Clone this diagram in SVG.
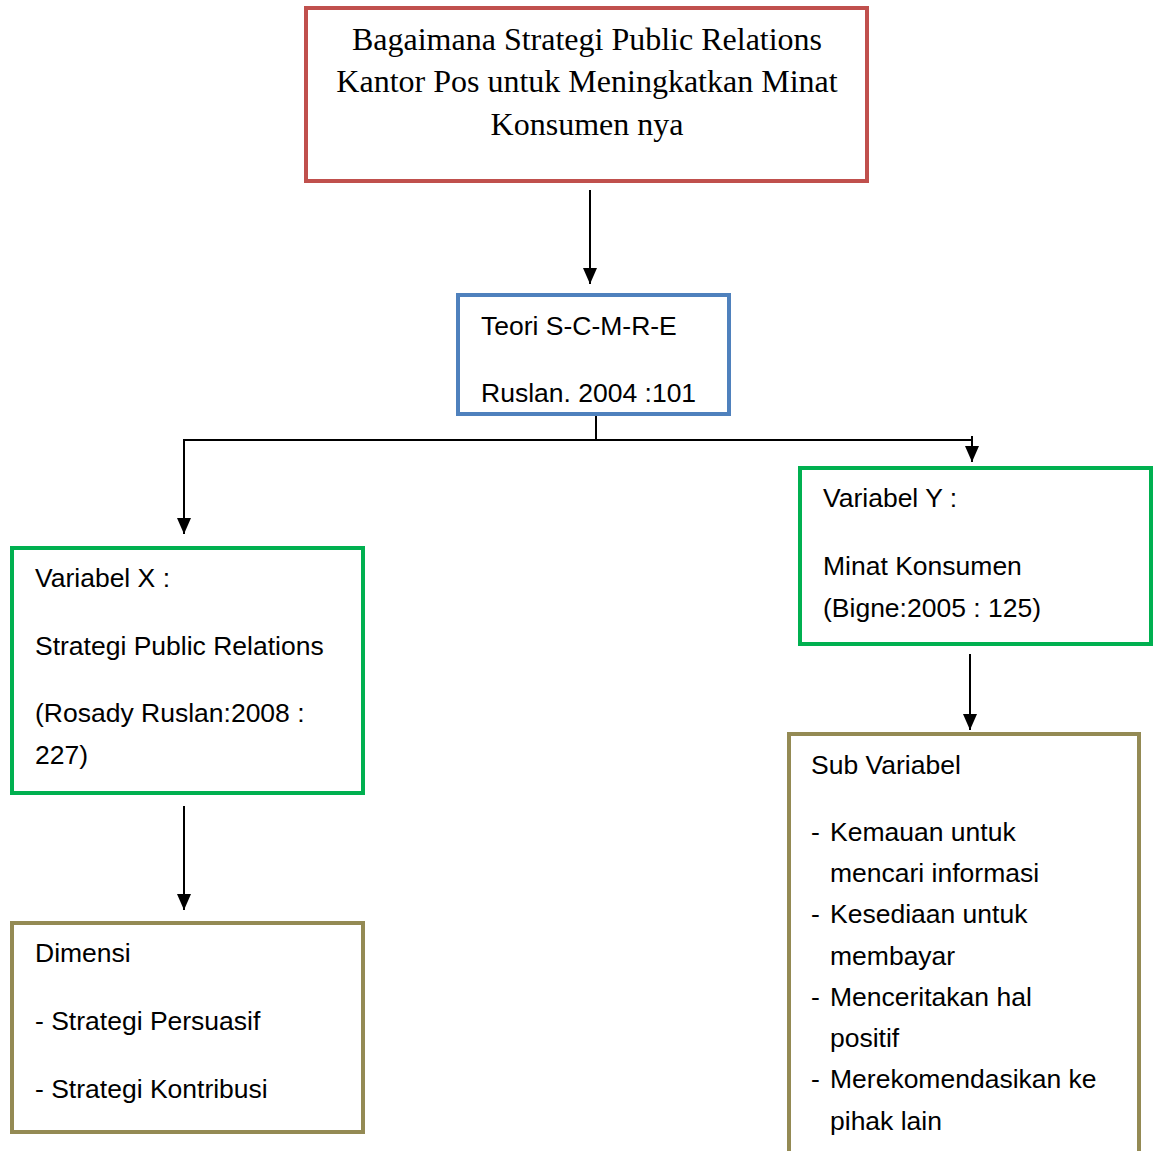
<svg xmlns="http://www.w3.org/2000/svg" width="1160" height="1151" viewBox="0 0 1160 1151">
<style>
.box{fill:#fff;stroke-width:4}
.red{stroke:#C0504D}
.blue{stroke:#4F81BD}
.green{stroke:#00B050}
.olive{stroke:#948A54}
.t{font-family:"Liberation Sans",Arial,sans-serif;font-size:26.5px;fill:#000}
.s{font-family:"Liberation Serif","Times New Roman",serif;font-size:32px;fill:#000;text-anchor:middle}
.c{stroke:#000;stroke-width:2;fill:none}
</style>
<defs>
<marker id="ah" markerWidth="16" markerHeight="14" refX="16" refY="7" orient="auto" markerUnits="userSpaceOnUse" viewBox="0 0 16 14">
<path d="M0,0 L16,7 L0,14 Z" fill="#000"/>
</marker>
</defs>
<rect width="1160" height="1151" fill="#fff"/>
<g id="connectors">
<line class="c" x1="590" y1="190" x2="590" y2="284" marker-end="url(#ah)"/>
<line class="c" x1="596" y1="415" x2="596" y2="440"/>
<line class="c" x1="183" y1="440" x2="973" y2="440"/>
<line class="c" x1="184" y1="440" x2="184" y2="534" marker-end="url(#ah)"/>
<line class="c" x1="972" y1="436" x2="972" y2="462" marker-end="url(#ah)"/>
<line class="c" x1="184" y1="806" x2="184" y2="910" marker-end="url(#ah)"/>
<line class="c" x1="970" y1="654" x2="970" y2="730" marker-end="url(#ah)"/>
</g>
<g id="question">
<rect class="box red" x="306" y="8" width="561" height="173"/>
<text class="s" x="587" y="50">Bagaimana Strategi Public Relations</text>
<text class="s" x="587" y="92">Kantor Pos untuk Meningkatkan Minat</text>
<text class="s" x="587" y="135">Konsumen nya</text>
</g>
<g id="teori">
<rect class="box blue" x="458" y="295" width="271" height="119"/>
<text class="t" x="481" y="335">Teori S-C-M-R-E</text>
<text class="t" x="481" y="402">Ruslan. 2004 :101</text>
</g>
<g id="varX">
<rect class="box green" x="12" y="548" width="351" height="245"/>
<text class="t" x="35" y="587">Variabel X :</text>
<text class="t" x="35" y="655">Strategi Public Relations</text>
<text class="t" x="35" y="722">(Rosady Ruslan:2008 :</text>
<text class="t" x="35" y="764">227)</text>
</g>
<g id="varY">
<rect class="box green" x="800" y="468" width="351" height="176"/>
<text class="t" x="823" y="507">Variabel Y :</text>
<text class="t" x="823" y="575">Minat Konsumen</text>
<text class="t" x="823" y="617">(Bigne:2005 : 125)</text>
</g>
<g id="dimensi">
<rect class="box olive" x="12" y="923" width="351" height="209"/>
<text class="t" x="35" y="962">Dimensi</text>
<text class="t" x="35" y="1030">- Strategi Persuasif</text>
<text class="t" x="35" y="1098">- Strategi Kontribusi</text>
</g>
<g id="subvar">
<rect class="box olive" x="789" y="734" width="350" height="440"/>
<text class="t" x="811" y="774">Sub Variabel</text>
<text class="t" x="811" y="841">-</text>
<text class="t" x="830" y="841">Kemauan untuk</text>
<text class="t" x="830" y="882">mencari informasi</text>
<text class="t" x="811" y="923">-</text>
<text class="t" x="830" y="923">Kesediaan untuk</text>
<text class="t" x="830" y="965">membayar</text>
<text class="t" x="811" y="1006">-</text>
<text class="t" x="830" y="1006">Menceritakan hal</text>
<text class="t" x="830" y="1047">positif</text>
<text class="t" x="811" y="1088">-</text>
<text class="t" x="830" y="1088">Merekomendasikan ke</text>
<text class="t" x="830" y="1130">pihak lain</text>
</g>
</svg>
